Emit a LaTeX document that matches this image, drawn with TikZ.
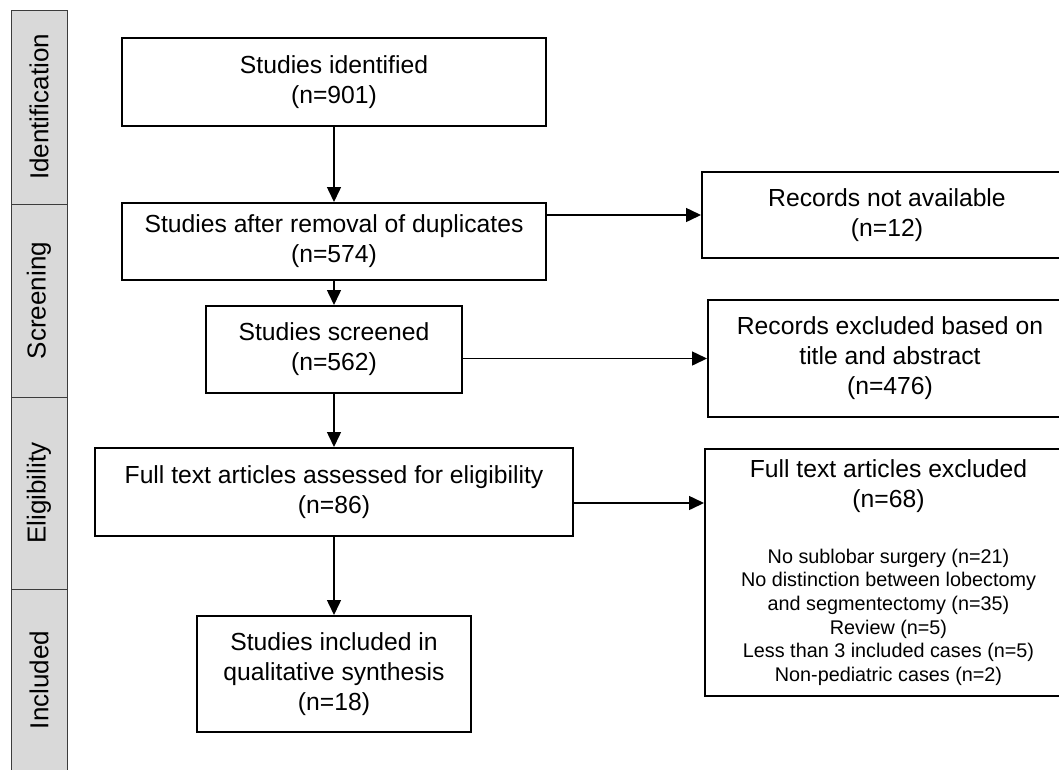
\documentclass[tikz,border=0pt]{standalone}
\usepackage{fontspec}
\setmainfont{Liberation Sans}
\usetikzlibrary{arrows.meta}
\setlength{\parindent}{0pt}

\definecolor{stagefill}{RGB}{217,217,217}
\definecolor{stageline}{RGB}{60,60,60}
\newcommand{\boxfont}{\fontsize{24.7}{30}\selectfont}
\newcommand{\listfont}{\fontsize{19.8}{23.6}\selectfont}
\newcommand{\stagefont}{\fontsize{26}{30}\selectfont}

\begin{document}
\begin{tikzpicture}[x=1pt,y=-1pt]

      \useasboundingbox (0,0) rectangle (1059,769);
      \clip (0,0) rectangle (1059,769);

      % stage bar on the left
      \begin{scope}[every node/.style={draw=stageline, fill=stagefill, line width=1pt, rotate=90, minimum height=56, inner sep=0pt, font=\stagefont}]
        \node[minimum width=194] (s1) at (39,107)   {Identification};
        \node[minimum width=193] (s2) at (39,300.5) {Screening};
        \node[minimum width=192] (s3) at (39,493)   {Eligibility};
        \node[minimum width=182] (s4) at (39,680)   {Included};
      \end{scope}

      \begin{scope}[every node/.style={draw, line width=2pt, inner sep=0pt, align=flush center, font=\boxfont}]
        \node[minimum width=424, minimum height=88,  text width=414] (b1) at (334,82)    {Studies identified\\(n=901)};
        \node[minimum width=424, minimum height=77,  text width=414] (b2) at (334,241.5) {Studies after removal of duplicates\\(n=574)};
        \node[minimum width=256, minimum height=87,  text width=246] (b3) at (334,349.5) {Studies screened\\(n=562)};
        \node[minimum width=478, minimum height=88,  text width=468] (b4) at (334,492)   {Full text articles assessed for eligibility\\(n=86)};
        \node[minimum width=274, minimum height=116, text width=264] (b5) at (334,674)   {Studies included in\\qualitative synthesis\\(n=18)};

        \node[minimum width=370, minimum height=86,  text width=360] (r1) at (887,215)    {Records not available\\(n=12)};
        \node[minimum width=364, minimum height=117, text width=354] (r2) at (890,358.5)  {Records excluded based on\\title and abstract\\(n=476)};
        \node[minimum width=367, minimum height=247, text width=357] (r3) at (888.5,572.5) {Full text articles excluded\\(n=68)\par
          \vspace{32pt}\listfont
          No sublobar surgery (n=21)\\
          No distinction between lobectomy\\
          and segmentectomy (n=35)\\
          Review (n=5)\\
          Less than 3 included cases (n=5)\\
          Non-pediatric cases (n=2)\par};
      \end{scope}

      \coordinate (j3) at (600,503);

      \begin{scope}[every edge/.style={draw, line width=1.5pt, -{Triangle[length=15pt,width=14pt]}}]
        \path (b1) edge (b2);
        \path (b2) edge (b3);
        \path (b3) edge (b4);
        \path (b4) edge (b5);
        \path (b2.east |- r1.west) edge (r1.west);
        \path (b3.east |- r2.west) edge (r2.west);
        \path (b4.east |- j3) edge (r3.west |- j3);
      \end{scope}

    \end{tikzpicture}
\end{document}
